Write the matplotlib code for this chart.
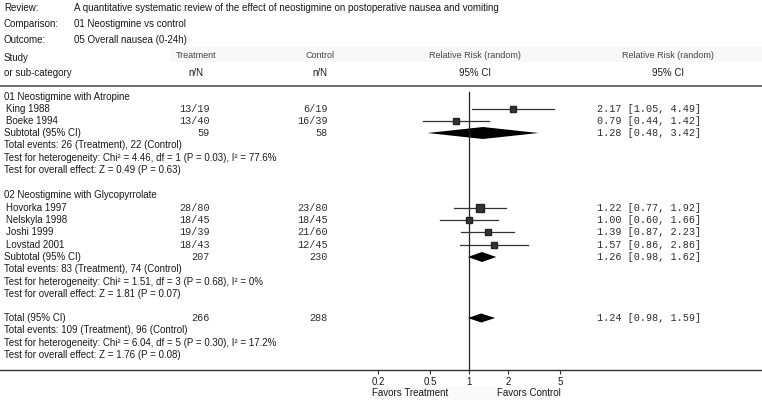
import numpy as np
import matplotlib.pyplot as plt
from matplotlib.patches import Rectangle

# dane
studies = ['King 1988', 'Boeke 1994', 'Hovorka 1997', 'Nelskyla 1998', 'Joshi 1999', 'Lovstad 2001']
treat_nN = ['13/19', '13/40', '28/80', '18/45', '19/39', '18/43']
ctrl_nN = ['6/19', '16/39', '23/80', '18/45', '21/60', '12/45']
rr = [2.17, 0.79, 1.22, 1.00, 1.39, 1.57]
rr_lo = [1.05, 0.44, 0.77, 0.60, 0.87, 0.86]
rr_hi = [4.49, 1.42, 1.92, 1.66, 2.23, 2.86]
weight = [4.5, 5.0, 5.5, 5.0, 5.0, 5.0]

groups = ['01 Neostigmine with Atropine', '02 Neostigmine with Glycopyrrolate']
sub_rr = [1.28, 1.26]
sub_lo = [0.48, 0.98]
sub_hi = [3.42, 1.62]
sub_nt = [59, 207]
sub_nc = [58, 230]
sub_events = ['Total events: 26 (Treatment), 22 (Control)',
              'Total events: 83 (Treatment), 74 (Control)']
sub_het = ['Test for heterogeneity: Chi² = 4.46, df = 1 (P = 0.03), I² = 77.6%',
           'Test for heterogeneity: Chi² = 1.51, df = 3 (P = 0.68), I² = 0%']
sub_z = ['Test for overall effect: Z = 0.49 (P = 0.63)',
         'Test for overall effect: Z = 1.81 (P = 0.07)']

tot_rr, tot_lo, tot_hi = 1.24, 0.98, 1.59
tot_nt, tot_nc = 266, 288
tot_events = 'Total events: 109 (Treatment), 96 (Control)'
tot_het = 'Test for heterogeneity: Chi² = 6.04, df = 5 (P = 0.30), I² = 17.2%'
tot_z = 'Test for overall effect: Z = 1.76 (P = 0.08)'

ticks = [0.2, 0.5, 1, 2, 5]

# układ wierszy (piksele)
study_y = [109, 121, 208, 220, 232, 245]
group_y = [97, 195]
sub_y = [133, 257]
tot_y = 318
dy = 12.4

sans = 'Liberation Sans'
mono = 'Liberation Mono'
fs = 7.0
fm = 7.3
col = '#1a1a1a'
mcol = '#2e2e2e'

fig = plt.figure(figsize=(7.62, 4.04), dpi=100)
ax = fig.add_axes([0, 0, 1, 1])
ax.set_xlim(0, 762)
ax.set_ylim(404, 0)
ax.axis('off')

# nagłówek
for i, (k, v) in enumerate([('Review:', 'A quantitative systematic review of the effect of neostigmine on postoperative nausea and vomiting'),
                            ('Comparison:', '01 Neostigmine vs control'),
                            ('Outcome:', '05 Overall nausea (0-24h)')]):
    ax.text(4, 8 + 16 * i, k, family=sans, size=fs, color=col, va='center')
    ax.text(74, 8 + 16 * i, v, family=sans, size=fs, color=col, va='center')

ax.add_patch(Rectangle((170, 47), 592, 15, color='#f8f8f8', lw=0))
ax.add_patch(Rectangle((370, 386), 190, 14, color='#fafafa', lw=0))

ax.text(4, 58, 'Study', family=sans, size=fs, color=col, va='center')
ax.text(4, 73, 'or sub-category', family=sans, size=fs, color=col, va='center')
for x, a, b in [(196, 'Treatment', 'n/N'), (320, 'Control', 'n/N'),
                (475, 'Relative Risk (random)', '95% CI'), (668, 'Relative Risk (random)', '95% CI')]:
    ax.text(x, 55, a, family=sans, size=fs - 0.5, color='#444444', ha='center', va='center')
    ax.text(x, 73, b, family=sans, size=fs, color=col, ha='center', va='center')

ax.plot([0, 762], [86, 86], color='#555555', lw=1.2)
ax.plot([0, 762], [370, 370], color='#333333', lw=1.0)

def ci_text(m, l, h):
    return f'{m:.2f} [{l:.2f}, {h:.2f}]'

for i, s in enumerate(studies):
    y = study_y[i]
    ax.text(6, y, s, family=sans, size=fs, color=col, va='center')
    ax.text(210, y, treat_nN[i], family=mono, size=fm, color=mcol, ha='right', va='center')
    ax.text(328, y, ctrl_nN[i], family=mono, size=fm, color=mcol, ha='right', va='center')
    ax.text(597, y, ci_text(rr[i], rr_lo[i], rr_hi[i]), family=mono, size=fm, color=mcol, va='center')

for g in range(2):
    ax.text(4, group_y[g], groups[g], family=sans, size=fs, color=col, va='center')
    y = sub_y[g]
    ax.text(4, y, 'Subtotal (95% CI)', family=sans, size=fs, color=col, va='center')
    ax.text(210, y, str(sub_nt[g]), family=mono, size=fm, color=mcol, ha='right', va='center')
    ax.text(328, y, str(sub_nc[g]), family=mono, size=fm, color=mcol, ha='right', va='center')
    ax.text(597, y, ci_text(sub_rr[g], sub_lo[g], sub_hi[g]), family=mono, size=fm, color=mcol, va='center')
    for j, t in enumerate([sub_events[g], sub_het[g], sub_z[g]]):
        ax.text(4, y + dy * (j + 1), t, family=sans, size=fs, color=col, va='center')

ax.text(4, tot_y, 'Total (95% CI)', family=sans, size=fs, color=col, va='center')
ax.text(210, tot_y, str(tot_nt), family=mono, size=fm, color=mcol, ha='right', va='center')
ax.text(328, tot_y, str(tot_nc), family=mono, size=fm, color=mcol, ha='right', va='center')
ax.text(597, tot_y, ci_text(tot_rr, tot_lo, tot_hi), family=mono, size=fm, color=mcol, va='center')
for j, t in enumerate([tot_events, tot_het, tot_z]):
    ax.text(4, tot_y + dy * (j + 1), t, family=sans, size=fs, color=col, va='center')

ax.text(372, 393, 'Favors Treatment', family=sans, size=fs, color=col, va='center')
ax.text(497, 393, 'Favors Control', family=sans, size=fs, color=col, va='center')

# wykres leśny (skala log)
ax2 = fig.add_axes([339 / 762, (404 - 370) / 404, 260 / 762, (370 - 88) / 404])
ax2.set_xscale('log')
ax2.set_xlim(0.1, 10)
ax2.set_ylim(370, 88)
ax2.patch.set_alpha(0)
for sp in ax2.spines.values():
    sp.set_visible(False)
ax2.set_yticks([])
ax2.set_xticks(ticks)
ax2.set_xticklabels([f'{t:g}' for t in ticks], family=sans, size=fs, color=col)
ax2.minorticks_off()
ax2.tick_params(axis='x', length=3, width=0.8, pad=2, color='#333333')
ax2.axvline(1, ymin=0, ymax=(370 - 92) / (370 - 88), color='#222222', lw=0.9)

for i in range(len(studies)):
    y = study_y[i]
    ax2.plot([rr_lo[i], rr_hi[i]], [y, y], color='#333333', lw=0.9)
    ax2.plot(rr[i], y, marker='s', ms=weight[i], color='#333333', mec='#222222')

def diamond(m, l, h, y, half):
    ax2.fill([l, m, h, m], [y, y - half, y, y + half], color='black', lw=0)

for g in range(2):
    diamond(sub_rr[g], sub_lo[g], sub_hi[g], sub_y[g], 6 if g == 0 else 5)
diamond(tot_rr, tot_lo, tot_hi, tot_y, 4.5)

plt.savefig('out.png', dpi=100)
